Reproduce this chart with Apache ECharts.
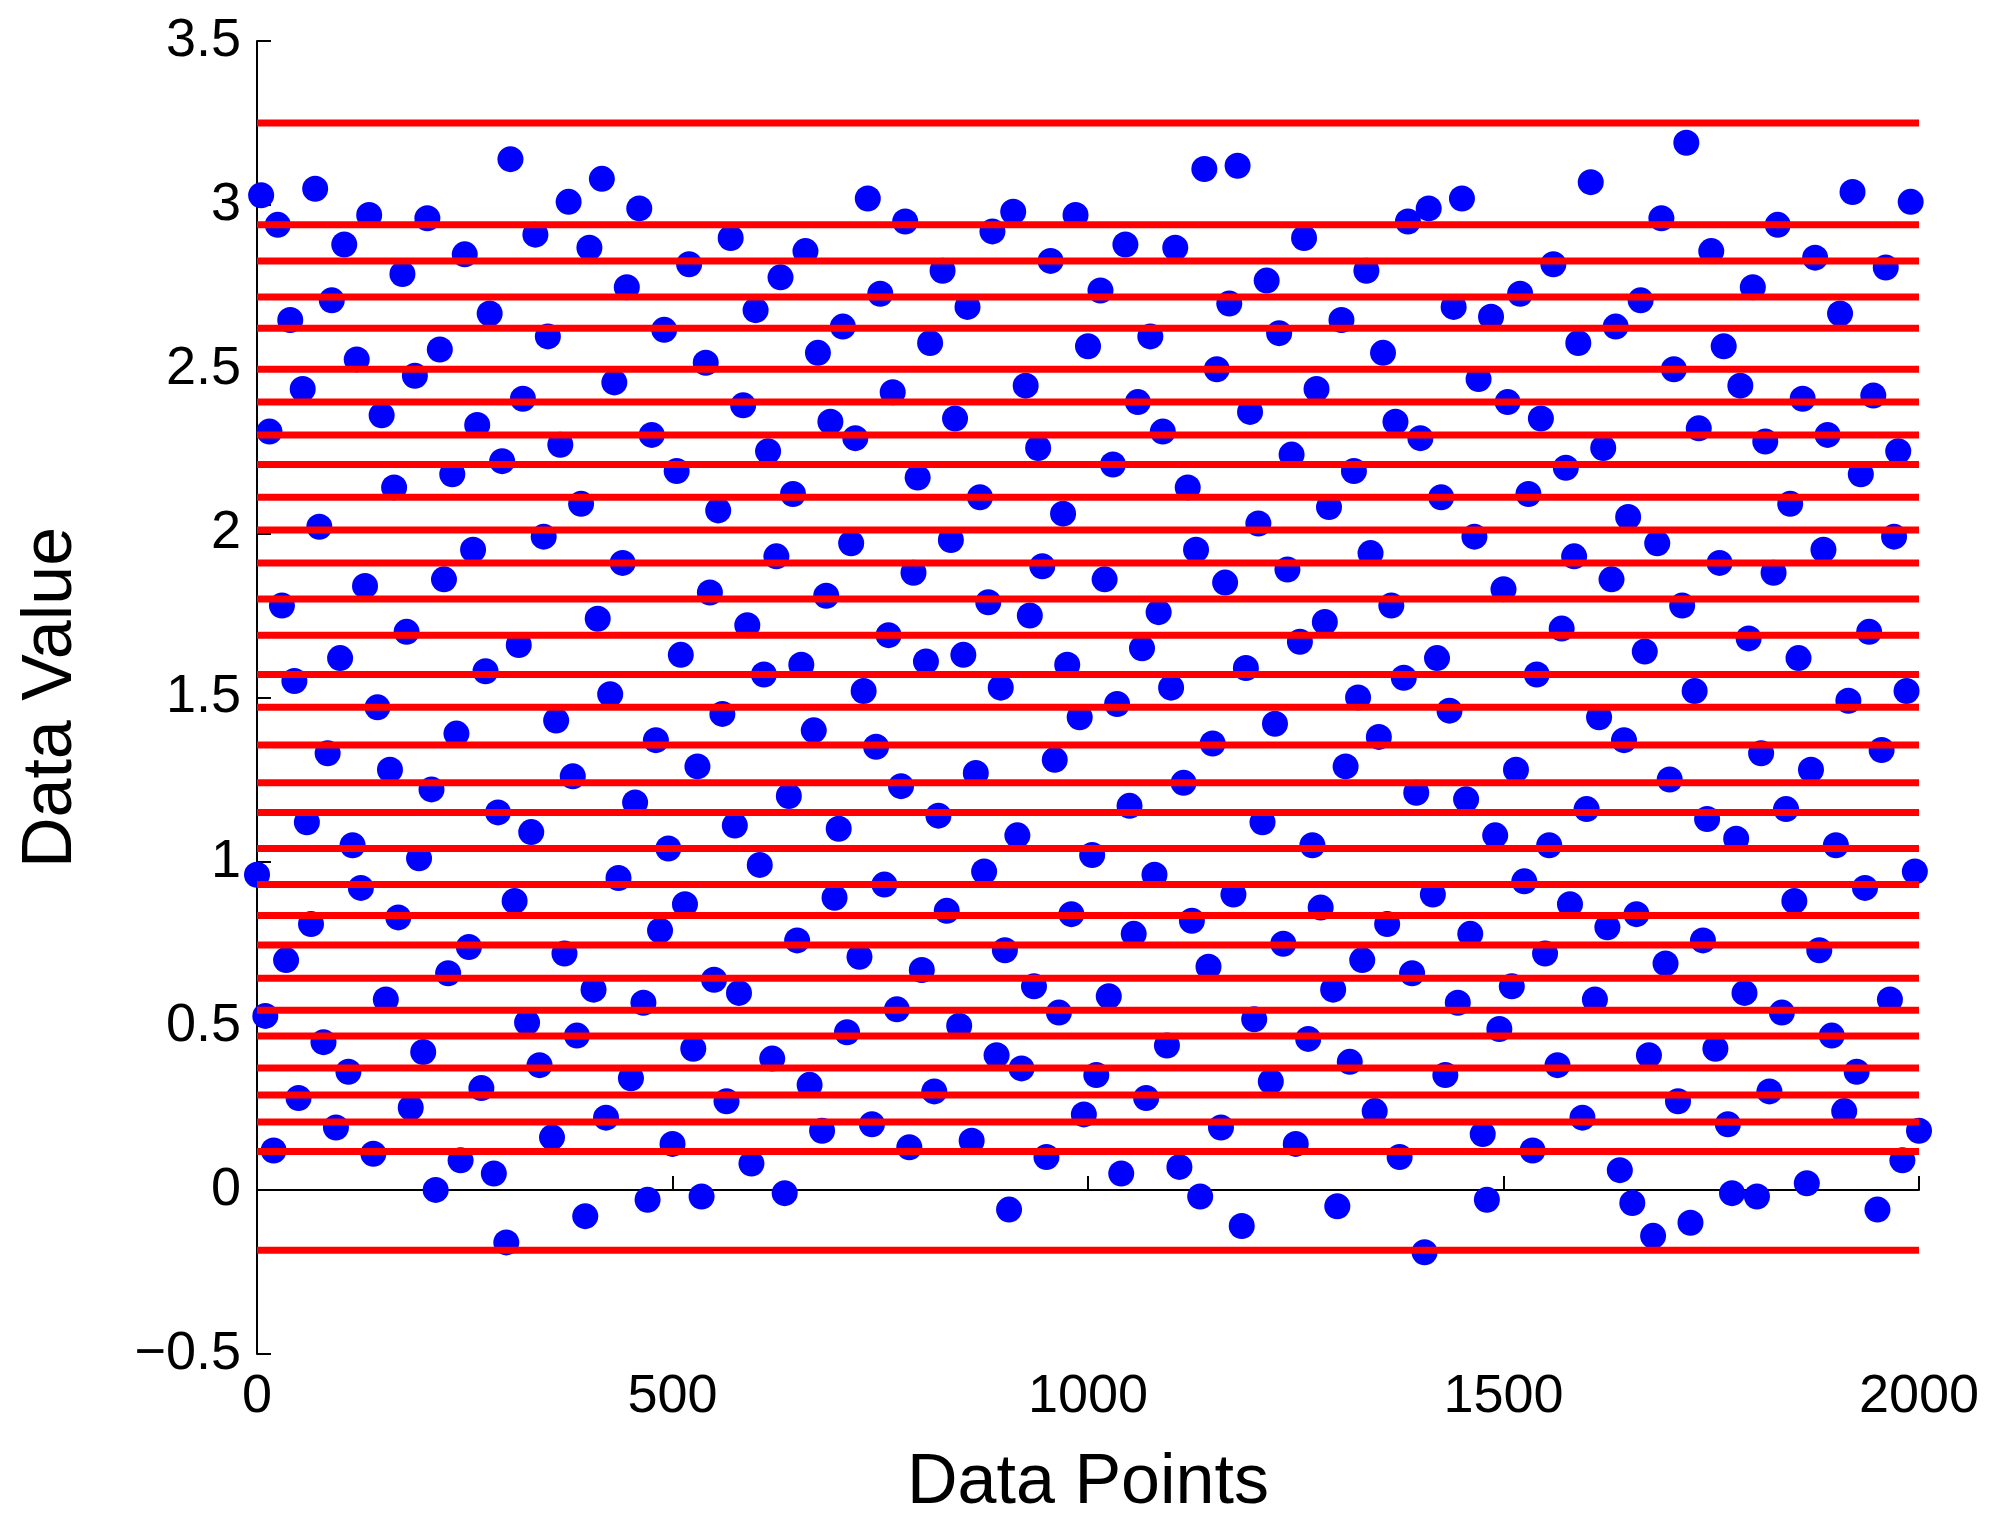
<!DOCTYPE html>
<html><head><meta charset="utf-8">
<script src="https://cdn.jsdelivr.net/npm/echarts@6/dist/echarts.min.js"></script>
<style>html,body{margin:0;padding:0;background:#fff}#c{width:2005px;height:1524px}</style>
</head><body><div id="c"></div>
<script>
// Data values read (approximately) from the reference; x = data point index
const xStep = 5;
const values = [
0.96,3.03,0.53,2.31,0.12,2.94,1.78,0.70,2.65,1.55,0.28,2.44,1.12,0.81,3.05,2.02,0.45,1.33,2.71,0.19,
1.62,2.88,0.36,1.05,2.53,0.92,1.84,2.97,0.11,1.47,2.36,0.58,1.28,2.14,0.83,2.79,1.70,0.25,2.48,1.01,
0.42,2.96,1.22,0.00,2.56,1.86,0.66,2.18,1.39,0.09,2.85,0.74,1.95,2.33,0.31,1.58,2.67,0.05,1.15,2.22,
-0.16,3.14,0.88,1.66,2.41,0.51,1.09,2.91,0.38,1.99,2.60,0.16,1.43,2.27,0.72,3.01,1.26,0.47,2.09,-0.08,
2.87,0.61,1.74,3.08,0.22,1.51,2.46,0.95,1.91,2.75,0.34,1.18,2.99,0.57,-0.03,2.30,1.37,0.79,2.62,1.04,
0.14,2.19,1.63,0.87,2.82,0.43,1.29,-0.02,2.52,1.82,0.64,2.07,1.45,0.27,2.90,1.11,0.60,2.39,1.72,0.08,
2.68,0.99,1.57,2.25,0.40,1.93,2.78,-0.01,1.20,2.12,0.76,1.60,2.86,0.32,1.40,2.55,0.18,1.81,2.34,0.89,
1.10,2.63,0.48,1.97,2.29,0.71,1.52,3.02,0.20,1.35,2.73,0.93,1.69,2.43,0.55,1.23,2.95,0.13,1.88,2.17,
0.67,1.61,2.58,0.30,1.14,2.80,0.85,1.98,2.35,0.50,1.63,2.69,0.15,1.27,2.11,0.97,1.79,2.92,0.41,1.53,
0.73,-0.06,2.98,1.08,0.37,2.45,1.75,0.62,2.26,1.90,0.10,2.83,1.31,0.54,2.06,1.60,0.84,2.97,1.44,0.23,
2.57,1.02,0.35,2.74,1.86,0.59,2.21,1.48,0.05,2.88,1.17,0.78,2.40,1.65,0.28,2.60,0.96,1.76,2.31,0.44,
1.53,2.87,0.07,1.24,2.14,0.82,1.95,-0.02,3.11,0.68,1.36,2.50,0.19,1.85,2.70,0.90,3.12,-0.11,1.59,2.37,
0.52,2.03,1.12,2.77,0.33,1.42,2.61,0.75,1.89,2.24,0.14,1.67,2.90,0.46,1.05,2.44,0.86,1.73,2.08,0.61,
-0.05,2.65,1.29,0.39,2.19,1.50,0.70,2.80,1.94,0.24,1.38,2.55,0.81,1.78,2.34,0.10,1.56,2.95,0.66,1.21,
2.29,-0.19,2.99,0.90,1.62,2.11,0.35,1.46,2.69,0.57,3.02,1.19,0.78,1.99,2.47,0.17,-0.03,2.66,1.08,0.49,
1.83,2.40,0.62,1.28,2.73,0.94,2.12,0.12,1.57,2.35,0.72,1.05,2.82,0.38,1.71,2.20,0.87,1.93,2.58,0.22,
1.16,3.07,0.58,1.44,2.26,0.80,1.86,2.63,0.06,1.37,2.05,-0.04,0.84,2.71,1.64,0.41,-0.14,1.97,2.96,0.69,
1.25,2.50,0.27,1.78,3.19,-0.10,1.52,2.32,0.76,1.13,2.86,0.43,1.91,2.57,0.20,-0.01,1.07,2.45,0.60,1.68,
2.75,-0.02,1.33,2.28,0.30,1.88,2.94,0.54,1.16,2.09,0.88,1.62,2.41,0.02,1.28,2.84,0.73,1.95,2.30,0.47,
1.05,2.67,0.24,1.49,3.04,0.36,2.18,0.92,1.70,2.42,-0.06,1.34,2.81,0.58,1.99,2.25,0.09,1.52,3.01,0.97,
0.18];
// horizontal red reference levels
const levels = [3.25,2.94,2.83,2.72,2.625,2.50,2.40,2.30,2.21,2.11,2.01,1.91,1.80,1.69,1.57,1.47,1.355,1.24,1.15,1.04,0.93,0.836,0.746,0.645,0.547,0.469,0.371,0.289,0.207,0.117,-0.184];
const xMax = 2000;

const pts = values.map((v,i)=>[i*xStep, v]);
const lineSeries = levels.map(l=>({type:'line',data:[[0,l],[xMax,l]],symbol:'none',z:3,
  lineStyle:{color:'#ff0000',width:7},silent:true,animation:false}));
const chart = echarts.init(document.getElementById('c'));
const axisFont = {fontFamily:'Liberation Sans, Arial, sans-serif',fontSize:54,color:'#000'};
chart.setOption({
  animation:false,
  grid:{left:257,right:86,top:41,bottom:166},
  xAxis:{type:'value',min:0,max:2000,interval:500,name:'Data Points',nameLocation:'middle',nameGap:95,
    nameTextStyle:{fontFamily:'Liberation Sans, Arial, sans-serif',fontSize:70,color:'#000'},
    axisLine:{lineStyle:{color:'#000',width:2}},axisTick:{inside:true,length:14,lineStyle:{color:'#000',width:2}},
    splitLine:{show:false},axisLabel:Object.assign({margin:16,formatter:v=>String(v)},axisFont)},
  yAxis:{type:'value',min:-0.5,max:3.5,interval:0.5,name:'Data Value',nameLocation:'middle',nameGap:170,
    nameTextStyle:{fontFamily:'Liberation Sans, Arial, sans-serif',fontSize:70,color:'#000'},
    axisLine:{show:true,lineStyle:{color:'#000',width:2}},axisTick:{show:true,inside:true,length:14,lineStyle:{color:'#000',width:2}},
    splitLine:{show:false},axisLabel:Object.assign({margin:16,formatter:v=>String(v).replace('-','\u2212')},axisFont)},
  series:[{type:'scatter',data:pts,symbolSize:26,itemStyle:{color:'#0000ff',opacity:1},z:2}].concat(lineSeries)
});
</script></body></html>
